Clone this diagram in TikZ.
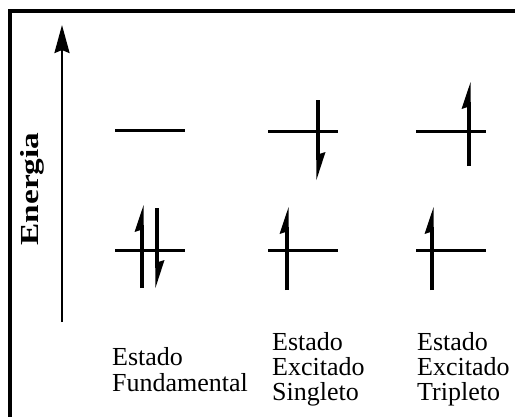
\documentclass[tikz,border=0pt]{standalone}
\usepackage{fontspec}
\setmainfont{Liberation Serif}
\usetikzlibrary{arrows.meta}
\newcommand\spinUp[3]{% x, bottom, tip
  \draw[spinline] (#1,#2) -- (#1,{#3+20});
  \fill ({#1+1.6},#3) -- ({#1-7.5},{#3+27}) -- ({#1+1.6},{#3+24}) -- cycle;}
\newcommand\spinDown[3]{% x, top, tip
  \draw[spinline] (#1,#2) -- (#1,{#3-20});
  \fill ({#1-1.6},#3) -- ({#1+7.5},{#3-28}) -- ({#1-1.6},{#3-25}) -- cycle;}
\begin{document}
\begin{tikzpicture}[x=1pt,y=-1pt,
  level/.style={line width=3pt},
  spinline/.style={line width=3.2pt},
  lbl/.style={anchor=base west, inner sep=0pt, font=\fontsize{26}{30}\selectfont},
]
\useasboundingbox (0,0) rectangle (515,416);
\fill[white] (0,0) rectangle (515,416);
% frame (only top and left are visible)
\draw[line width=4pt, line join=miter] (10,430) -- (10,11) -- (530,11);
% energy axis
\draw[line width=2.5pt, -{Stealth[length=28pt,width=15pt,inset=3pt]}] (62,322) -- (62,25);
\node[rotate=90, anchor=base, inner sep=0pt, font=\fontsize{26}{30}\selectfont\bfseries] (energia) at (38,189) {\scalebox{1.28}[1]{Energia}};
% levels
\draw[level] (115,130) -- (185,130);
\draw[level] (115,250) -- (185,250);
\draw[level] (268,131) -- (338,131);
\draw[level] (268,250) -- (338,250);
\draw[level] (416,131) -- (486,131);
\draw[level] (416,250) -- (486,250);
% electrons
\spinUp{142}{288}{205}
\spinDown{157}{208}{288}
\spinDown{318}{100}{180}
\spinUp{287}{290}{207}
\spinUp{469}{166}{82}
\spinUp{432}{290}{207}
% labels
\node[lbl] (f1) at (112,365) {Estado};
\node[lbl] (f2) at (112,391) {Fundamental};
\node[lbl] (s1) at (272,350) {Estado};
\node[lbl] (s2) at (272,375) {Excitado};
\node[lbl] (s3) at (272,400) {Singleto};
\node[lbl] (t1) at (417,350) {Estado};
\node[lbl] (t2) at (417,375) {Excitado};
\node[lbl] (t3) at (417,400) {Tripleto};
\end{tikzpicture}
\end{document}
